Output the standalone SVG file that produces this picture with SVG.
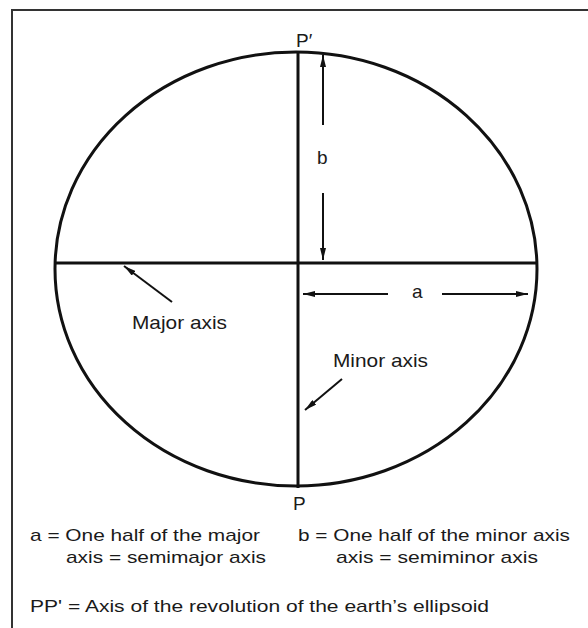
<svg xmlns="http://www.w3.org/2000/svg" width="588" height="628" viewBox="0 0 588 628">
<style>
.t{font-family:"Liberation Sans",Arial,sans-serif;fill:#1a1a1a}
.lbl{font-size:19px}
.note{font-size:17px}
.ln{stroke:#111;fill:none;stroke-width:3}
.ar{stroke:#111;fill:none;stroke-width:2}
</style>
<defs>
<marker id="ah" viewBox="0 0 12 6" refX="12" refY="3" markerWidth="12" markerHeight="6" markerUnits="userSpaceOnUse" orient="auto">
<path d="M0,0 L12,3 L0,6 Z" fill="#111"/>
</marker>
</defs>
<rect width="588" height="628" fill="#fff"/>
<g id="frame">
<path d="M12,628 V10 H588" stroke="#333" stroke-width="2" fill="none"/>
</g>
<g id="ellipse">
<ellipse class="ln" cx="296" cy="269" rx="241" ry="217"/>
</g>
<g id="major-axis-line">
<line class="ln" x1="55" y1="263" x2="537" y2="263"/>
</g>
<g id="minor-axis-line">
<line class="ln" x1="298" y1="52" x2="298" y2="488"/>
</g>
<g id="connectors">
<line class="ar" x1="323" y1="125" x2="323" y2="55" marker-end="url(#ah)"/>
<line class="ar" x1="323" y1="193" x2="323" y2="260" marker-end="url(#ah)"/>
<line class="ar" x1="388" y1="294" x2="303" y2="294" marker-end="url(#ah)"/>
<line class="ar" x1="442" y1="294" x2="528" y2="294" marker-end="url(#ah)"/>
<line class="ar" x1="172" y1="302" x2="124" y2="266" marker-end="url(#ah)"/>
<line class="ar" x1="342" y1="379" x2="305" y2="410" marker-end="url(#ah)"/>
</g>
<g id="labels">
<text class="t lbl" x="296" y="47">P′</text>
<text class="t lbl" x="293" y="510">P</text>
<text class="t lbl" x="317" y="164">b</text>
<text class="t lbl" x="412" y="298">a</text>
<text class="t lbl" x="132" y="329" textLength="95" lengthAdjust="spacingAndGlyphs">Major axis</text>
<text class="t lbl" x="333" y="367" textLength="95" lengthAdjust="spacingAndGlyphs">Minor axis</text>
</g>
<g id="legend">
<text class="t note" x="30" y="541" textLength="230" lengthAdjust="spacingAndGlyphs">a = One half of the major</text>
<text class="t note" x="66" y="563" textLength="200" lengthAdjust="spacingAndGlyphs">axis = semimajor axis</text>
<text class="t note" x="298" y="541" textLength="272" lengthAdjust="spacingAndGlyphs">b = One half of the minor axis</text>
<text class="t note" x="336" y="563" textLength="202" lengthAdjust="spacingAndGlyphs">axis = semiminor axis</text>
<text class="t note" x="30" y="612" textLength="459" lengthAdjust="spacingAndGlyphs">PP' = Axis of the revolution of the earth’s ellipsoid</text>
</g>
</svg>
